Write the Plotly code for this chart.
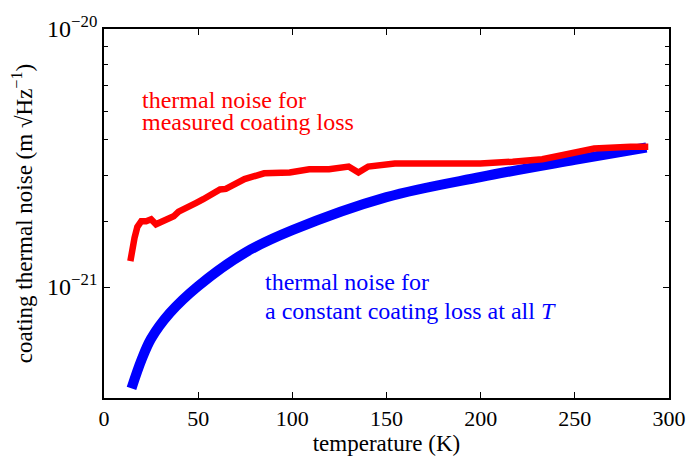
import plotly.graph_objects as go

# ---- data ----
red_T = [14.0, 15.1, 16.2, 17.7, 19.8, 22.4, 25.0, 27.6, 31.8, 37.0, 39.6, 42.3, 46.4, 49.0,
         52.7, 56.9, 61.6, 64.7, 68.3, 74.6, 85.0, 98.6, 109.0, 119.5, 129.9, 135.1, 140.3,
         154.4, 176.8, 199.8, 217.0, 232.7, 243.1, 260.3, 279.6, 289.0]
red_noise = [1.26e-21, 1.42e-21, 1.55e-21, 1.71e-21, 1.80e-21, 1.80e-21, 1.83e-21, 1.75e-21,
             1.82e-21, 1.88e-21, 1.96e-21, 2.00e-21, 2.05e-21, 2.12e-21, 2.19e-21, 2.29e-21,
             2.39e-21, 2.40e-21, 2.47e-21, 2.62e-21, 2.76e-21, 2.78e-21, 2.86e-21, 2.86e-21,
             2.93e-21, 2.78e-21, 2.93e-21, 3.01e-21, 3.01e-21, 3.01e-21, 3.06e-21, 3.13e-21,
             3.24e-21, 3.44e-21, 3.50e-21, 3.50e-21]

blue_T = [14.6, 20.0, 25.0, 35.0, 50.0, 75.0, 100.0, 150.0, 200.0, 250.0, 288.0]
blue_noise = [4.05e-22, 5.24e-22, 6.31e-22, 7.94e-22, 1.009e-21, 1.36e-21, 1.66e-21,
              2.23e-21, 2.67e-21, 3.11e-21, 3.475e-21]

x_ticks = [0, 50, 100, 150, 200, 250, 300]
y_major = [1e-21, 1e-20]
y_major_text = ["10<sup>\u221221</sup>", "10<sup>\u221220</sup>"]
y_minor = [1.79e-21, 2.71e-21, 3.72e-21, 4.79e-21, 6.04e-21, 7.30e-21, 8.57e-21]

FONT = "Liberation Serif, Times New Roman, DejaVu Serif, serif"

fig = go.Figure()
fig.add_trace(go.Scatter(
    x=blue_T, y=blue_noise, mode="lines", line=dict(color="#0000ff", width=10, shape="spline"),
    showlegend=False, hoverinfo="skip"))
fig.add_trace(go.Scatter(
    x=red_T, y=red_noise, mode="lines", line=dict(color="#ff0000", width=6.5),
    showlegend=False, hoverinfo="skip"))

fig.update_layout(
    width=698, height=463,
    margin=dict(l=104, r=18, t=21, b=56),
    paper_bgcolor="white", plot_bgcolor="white",
    font=dict(family=FONT, size=22, color="black"),
    xaxis=dict(
        range=[0, 300], tickmode="array", tickvals=x_ticks,
        ticks="inside", ticklen=6, tickwidth=1.2, tickcolor="black",
        showline=True, linecolor="black", linewidth=1.8, mirror="ticks",
        showgrid=False, zeroline=False,
        tickfont=dict(family=FONT, size=22),
        title=dict(text="temperature (K)", font=dict(family=FONT, size=23), standoff=4),
    ),
    yaxis=dict(
        type="log", range=[-21.43, -20.0],
        tickmode="array", tickvals=y_major, ticktext=y_major_text,
        ticks="inside", ticklen=6, tickwidth=1.2, tickcolor="black",
        minor=dict(tickmode="array", tickvals=y_minor, ticks="inside", ticklen=4,
                   tickwidth=1, tickcolor="black", showgrid=False),
        showline=True, linecolor="black", linewidth=1.8, mirror="ticks",
        showgrid=False, zeroline=False,
        tickfont=dict(family=FONT, size=24),
        title=dict(text="coating thermal noise (m \u221AHz<sup>\u22121</sup>)",
                   font=dict(family=FONT, size=23), standoff=8),
    ),
)

anns = [
    ("thermal noise for", 141, 95, "#ff0000"),
    ("measured coating loss", 141, 118, "#ff0000"),
    ("thermal noise for", 266, 286, "#0000ff"),
    ("a constant coating loss at all <i>T</i>", 266, 316, "#0000ff"),
]
for text, px, py, col in anns:
    fig.add_annotation(
        text=text, xref="paper", yref="paper",
        x=(px - 104) / 576, y=1 - (py - 21) / 386,
        xanchor="left", yanchor="middle", showarrow=False,
        font=dict(family=FONT, size=24, color=col))

fig.write_html("out.html")
